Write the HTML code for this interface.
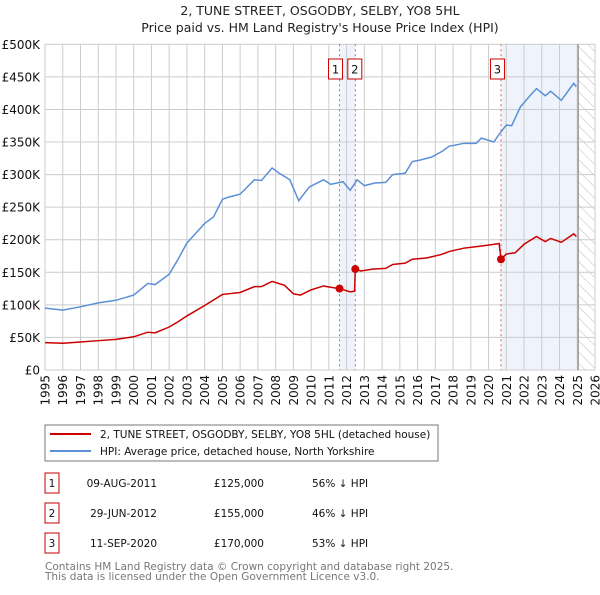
<!DOCTYPE html>
<html><head><meta charset="utf-8"><style>
body{margin:0;background:#fff;font-family:"Liberation Sans","DejaVu Sans",sans-serif;}
svg text{font-family:"DejaVu Sans","Liberation Sans",sans-serif;}
</style></head><body>
<svg id="chart" width="600" height="590" xmlns="http://www.w3.org/2000/svg">
<defs><pattern id="hatch" width="8" height="8" patternUnits="userSpaceOnUse" patternTransform="rotate(-45)"><line x1="0" y1="0" x2="0" y2="8" stroke="#bbb" stroke-width="1"/></pattern></defs>
<text x="320" y="15" text-anchor="middle" font-size="12.5" fill="#222">2, TUNE STREET, OSGODBY, SELBY, YO8 5HL</text>
<text x="320" y="32" text-anchor="middle" font-size="12.5" fill="#222">Price paid vs. HM Land Registry's House Price Index (HPI)</text>
<g id="plot"></g>
<rect x="45" y="425" width="393" height="36" fill="#fff" stroke="#777"/>
<line x1="50" y1="434" x2="91" y2="434" stroke="#cc0000" stroke-width="2"/>
<text x="100" y="438" font-size="10.5" fill="#111">2, TUNE STREET, OSGODBY, SELBY, YO8 5HL (detached house)</text>
<line x1="50" y1="451" x2="91" y2="451" stroke="#5b8fd6" stroke-width="2"/>
<text x="100" y="455" font-size="10.5" fill="#111">HPI: Average price, detached house, North Yorkshire</text>
<g id="table" font-size="10.5" fill="#111"></g>
<text x="45" y="570" font-size="10.5" fill="#777">Contains HM Land Registry data © Crown copyright and database right 2025.</text>
<text x="45" y="580" font-size="10.5" fill="#777">This data is licensed under the Open Government Licence v3.0.</text>
</svg>
<script>
const hpiYears=[1995,1996,1997,1998,1999,2000,2000.8,2001.2,2002,2002.5,2003,2003.5,2004,2004.5,2005,2005.3,2006,2006.8,2007.2,2007.8,2008.2,2008.8,2009.3,2009.9,2010.7,2011.1,2011.8,2012.2,2012.6,2013,2013.6,2014.2,2014.6,2015.3,2015.7,2016.1,2016.8,2017.4,2017.8,2018.1,2018.6,2019.3,2019.6,2020.3,2020.6,2021,2021.3,2021.8,2022.3,2022.7,2023.2,2023.5,2024.1,2024.8,2024.95];
const hpiValues=[95,92,97,103,107,115,133,131,147,170,195,210,225,235,262,265,270,292,291,310,302,292,260,281,292,285,289,276,292,283,287,288,300,302,320,322,327,336,344,345,348,348,356,350,362,376,375,404,420,432,421,428,414,440,435];
const redYears=[1995,1996,1997,1998,1999,2000,2000.8,2001.2,2002,2002.5,2003,2004,2005,2006,2006.8,2007.2,2007.8,2008.5,2009,2009.4,2010,2010.7,2011.1,2011.6,2012.2,2012.45,2012.49,2012.8,2013.5,2014.2,2014.6,2015.3,2015.7,2016.5,2017.3,2017.8,2018.6,2019.5,2020.6,2020.7,2021,2021.5,2022,2022.7,2023.2,2023.5,2024.1,2024.8,2024.95];
const redValues=[42,41,43,45,47,51,58,57,66,74,83,99,116,119,128,128,136,130,117,115,123,129,127,125,120,121,155,152,155,156,162,164,170,172,177,182,187,190,194,170,178,180,193,205,197,202,196,209,205];
const saleLabels=["1","2","3"];
const saleYears=[2011.6,2012.49,2020.7];
const saleValues=[125,155,170];
const saleDates=["09-AUG-2011","29-JUN-2012","11-SEP-2020"];
const salePrices=["£125,000","£155,000","£170,000"];
const saleDiffs=["56% ↓ HPI","46% ↓ HPI","53% ↓ HPI"];
const yTicks=[0,50,100,150,200,250,300,350,400,450,500];
const yTickLabels=["£0","£50K","£100K","£150K","£200K","£250K","£300K","£350K","£400K","£450K","£500K"];
const xTicks=[1995,1996,1997,1998,1999,2000,2001,2002,2003,2004,2005,2006,2007,2008,2009,2010,2011,2012,2013,2014,2015,2016,2017,2018,2019,2020,2021,2022,2023,2024,2025,2026];

const X0=45,X1=595,Y0=370,Y1=44.3;
const xs=v=>X0+(v-1995)/(2026-1995)*(X1-X0);
const ys=v=>Y0-v/500*(Y0-Y1);
const NS="http://www.w3.org/2000/svg";
const g=document.getElementById('plot');
function mk(tag,attrs,parent){const e=document.createElementNS(NS,tag);for(const k in attrs)e.setAttribute(k,attrs[k]);(parent||g).appendChild(e);return e;}

let e;
e=mk('rect',{x:xs(saleYears[0]),y:Y1,width:xs(saleYears[1])-xs(saleYears[0]),height:Y0-Y1,fill:'#eef3fc'});


e=mk('rect',{x:xs(saleYears[2]),y:Y1,width:xs(2025.05)-xs(saleYears[2]),height:Y0-Y1,fill:'#eef3fc'});


e=mk('rect',{x:xs(2025.05),y:Y1,width:X1-xs(2025.05),height:Y0-Y1,fill:'url(#hatch)'});



yTicks.forEach((t,i)=>{
  e=mk('line',{x1:X0,x2:X1,y1:ys(t),y2:ys(t),stroke:'#ccc','stroke-width':1});
  
  
  e=mk('text',{x:40,y:ys(t)+4.5,'text-anchor':'end','font-size':12,fill:'#111'});
  e.textContent=yTickLabels[i];
  
  
});
xTicks.forEach(t=>{
  e=mk('line',{x1:xs(t),x2:xs(t),y1:Y1,y2:Y0,stroke:'#ccc','stroke-width':1});
  
  
  e=mk('text',{x:0,y:0,'text-anchor':'end','font-size':12,fill:'#111',transform:`translate(${xs(t)+4.5},375) rotate(-90)`});
  e.textContent=t;
  
  
});
e=mk('line',{x1:xs(2025.05),x2:xs(2025.05),y1:Y1,y2:Y0,stroke:'#888','stroke-width':1.2});



saleYears.forEach((s,i)=>{
  e=mk('line',{x1:xs(s),x2:xs(s),y1:Y1,y2:Y0,stroke:'#e06060','stroke-width':1,'stroke-dasharray':'2,3'});
  
  
});

e=mk('polyline',{points:hpiYears.map((y,i)=>xs(y)+','+ys(hpiValues[i])).join(' '),fill:'none',stroke:'#5b8fd6','stroke-width':1.5});


e=mk('polyline',{points:redYears.map((y,i)=>xs(y)+','+ys(redValues[i])).join(' '),fill:'none',stroke:'#cc0000','stroke-width':1.5});



saleYears.forEach((s,i)=>{
  e=mk('circle',{cx:xs(s),cy:ys(saleValues[i]),r:4,fill:'#cc0000'});
  
  
  const bx=i===0?xs(s)-11:(i===1?xs(s)-7.5:xs(s)-10.5);
  e=mk('rect',{x:bx,y:59,width:14,height:20,fill:'#fff',stroke:'#cc0000','stroke-width':1});
  
  
  e=mk('text',{x:bx+7,y:73.5,'text-anchor':'middle','font-size':11.5,fill:'#111'});
  e.textContent=saleLabels[i];
  
  
});

const tb=document.getElementById('table');
saleLabels.forEach((l,i)=>{
  const cy=483+i*30;
  e=mk('rect',{x:45,y:cy-10,width:14,height:20,fill:'#fff',stroke:'#cc0000','stroke-width':1},tb);
  
  
  e=mk('text',{x:52,y:cy+4,'text-anchor':'middle'},tb);e.textContent=l;
  
  
  e=mk('text',{x:157,y:cy+4,'text-anchor':'end'},tb);e.textContent=saleDates[i];
  
  
  e=mk('text',{x:264,y:cy+4,'text-anchor':'end'},tb);e.textContent=salePrices[i];
  
  
  e=mk('text',{x:312,y:cy+4},tb);e.textContent=saleDiffs[i];
  
  
});
</script>
</body></html>
